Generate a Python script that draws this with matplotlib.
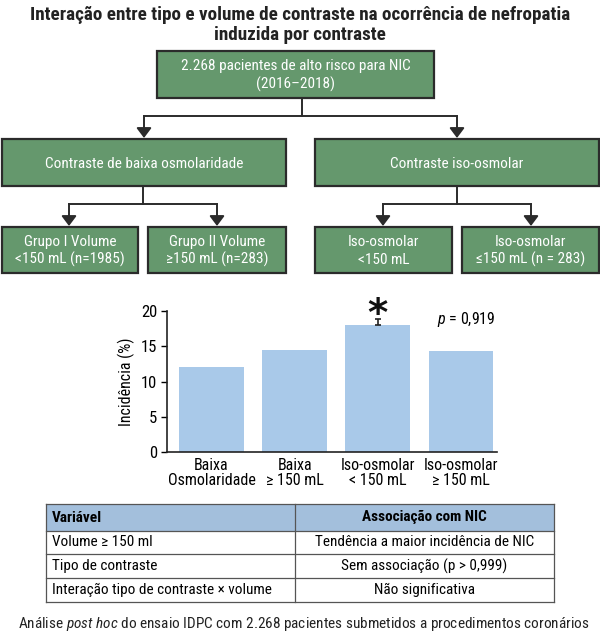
import matplotlib
matplotlib.use("Agg")
import matplotlib.pyplot as plt
from matplotlib.patches import Rectangle
from matplotlib import font_manager

# fonte condensada (parecida com Helvetica Condensed)
names = set(f.name for f in font_manager.fontManager.ttflist)
FONT = 'Liberation Sans'
for cand in ['Roboto Condensed', 'Archivo Narrow', 'PT Sans Narrow', 'Fira Sans Condensed', 'Liberation Sans Narrow']:
    if cand in names:
        FONT = cand
        break
plt.rcParams['font.family'] = [FONT, 'DejaVu Sans']
plt.rcParams['mathtext.fontset'] = 'custom'
plt.rcParams['mathtext.rm'] = FONT
plt.rcParams['mathtext.it'] = FONT + ':italic'

# dados
title = 'Interação entre tipo e volume de contraste na ocorrência de nefropatia\ninduzida por contraste'
top_box = '2.268 pacientes de alto risco para NIC\n(2016–2018)'
mid_boxes = ['Contraste de baixa osmolaridade', 'Contraste iso-osmolar']
low_boxes = ['Grupo I Volume\n<150 mL (n=1985)', 'Grupo II Volume\n≥150 mL (n=283)',
             'Iso-osmolar\n<150 mL', 'Iso-osmolar\n≤150 mL (n = 283)']

categorias = ['Baixa\nOsmolaridade', 'Baixa\n≥ 150 mL', 'Iso-osmolar\n< 150 mL', 'Iso-osmolar\n≥ 150 mL']
incidencia = [12.0, 14.4, 18.0, 14.3]
erro_sup = [0, 0, 0.8, 0]
p_valor = '0,919'

tab_header = ['Variável', 'Associação com NIC']
tab_var = ['Volume ≥ 150 ml', 'Tipo de contraste', 'Interação tipo de contraste × volume']
tab_assoc = ['Tendência a maior incidência de NIC', 'Sem associação (p > 0,999)', 'Não significativa']

caption = r'Análise $\it{post\ hoc}$ do ensaio IDPC com 2.268 pacientes submetidos a procedimentos coronários'

W, H = 600, 633
fig = plt.figure(figsize=(W / 100, H / 100), dpi=100)
bg = fig.add_axes([0, 0, 1, 1])
bg.set_xlim(0, W)
bg.set_ylim(H, 0)
bg.axis('off')

GREEN = '#65986d'
EDGE = '#2b2b2b'

bg.text(300, 25, title, ha='center', va='center', fontsize=13.8, fontweight='bold',
        color='#222222', linespacing=1.2)

def box(x0, x1, y0, y1, txt):
    bg.add_patch(Rectangle((x0, y0), x1 - x0, y1 - y0, facecolor=GREEN, edgecolor=EDGE, lw=1.6))
    bg.text((x0 + x1) / 2, (y0 + y1) / 2 + 1, txt, ha='center', va='center', color='white',
            fontsize=11, linespacing=1.3)

def fork(xc, y0, ymid, xl, xr, ytip):
    bg.plot([xc, xc], [y0, ymid], color=EDGE, lw=1.4)
    bg.plot([xl, xr], [ymid, ymid], color=EDGE, lw=1.4)
    for xa in (xl, xr):
        bg.annotate('', xy=(xa, ytip), xytext=(xa, ymid),
                    arrowprops=dict(arrowstyle='-|>,head_width=0.45,head_length=0.6',
                                    color=EDGE, lw=1.4, shrinkA=0, shrinkB=0))

box(157, 434, 51, 98, top_box)
fork(302, 98, 116, 144, 457, 138)
box(2, 286, 139, 186, mid_boxes[0])
box(315, 599, 139, 186, mid_boxes[1])
fork(143, 186, 204, 69, 217, 226)
fork(457, 186, 204, 383, 531, 226)
low_x = [(2, 138), (148, 286), (315, 452), (462, 599)]
for (x0, x1), t in zip(low_x, low_boxes):
    box(x0, x1, 227, 273, t)

# grafico de barras
ax = fig.add_axes([167 / W, 1 - 452 / H, 330 / W, 141 / H])
xs = list(range(len(categorias)))
ax.bar(xs, incidencia, width=0.78, color='#a9c9e9')
ax.errorbar(xs[2], incidencia[2], yerr=[[0], [erro_sup[2]]], fmt='none', ecolor='#222222',
            capsize=2.5, elinewidth=1.2, capthick=1.2)
ax.text(xs[2], 19.5, '*', ha='center', va='center', fontsize=28, fontweight='bold',
        color='#111111', clip_on=False, family='DejaVu Sans')
ax.text(3.42, 18.8, r'$\it{p}$ = ' + p_valor, ha='right', va='center', fontsize=11.5)
ax.set_xlim(-0.536, 3.434)
ax.set_ylim(0, 20)
ax.set_yticks([0, 5, 10, 15, 20])
ax.set_xticks(xs)
ax.set_xticklabels(categorias, fontsize=11.5, linespacing=1.05)
ax.tick_params(axis='x', length=0, pad=4)
ax.tick_params(axis='y', labelsize=12, length=4, width=1, direction='out', pad=3)
ax.set_ylabel('Incidência (%)', fontsize=11.5, labelpad=4)
for s in ('top', 'right'):
    ax.spines[s].set_visible(False)
for s in ('left', 'bottom'):
    ax.spines[s].set_color('#222222')
    ax.spines[s].set_linewidth(1.2)

# tabela
TL, TM, TR = 46, 295, 554
rows_y = [504, 531, 554, 578, 602]
bg.add_patch(Rectangle((TL, rows_y[0]), TR - TL, rows_y[1] - rows_y[0], facecolor='#a3bfdc', edgecolor='none'))
for y in rows_y:
    bg.plot([TL, TR], [y, y], color='#555555', lw=0.9)
for x in (TL, TM, TR):
    bg.plot([x, x], [rows_y[0], rows_y[-1]], color='#555555', lw=0.9)
bg.text(TL + 6, (rows_y[0] + rows_y[1]) / 2, tab_header[0], ha='left', va='center', fontsize=11, fontweight='bold')
bg.text((TM + TR) / 2, (rows_y[0] + rows_y[1]) / 2, tab_header[1], ha='center', va='center', fontsize=11, fontweight='bold')
for i in range(len(tab_var)):
    yc = (rows_y[i + 1] + rows_y[i + 2]) / 2
    bg.text(TL + 6, yc, tab_var[i], ha='left', va='center', fontsize=11)
    bg.text((TM + TR) / 2, yc, tab_assoc[i], ha='center', va='center', fontsize=11)

bg.text(304, 624, caption, ha='center', va='center', fontsize=11, color='#222222')

fig.savefig('out.png', dpi=100)
